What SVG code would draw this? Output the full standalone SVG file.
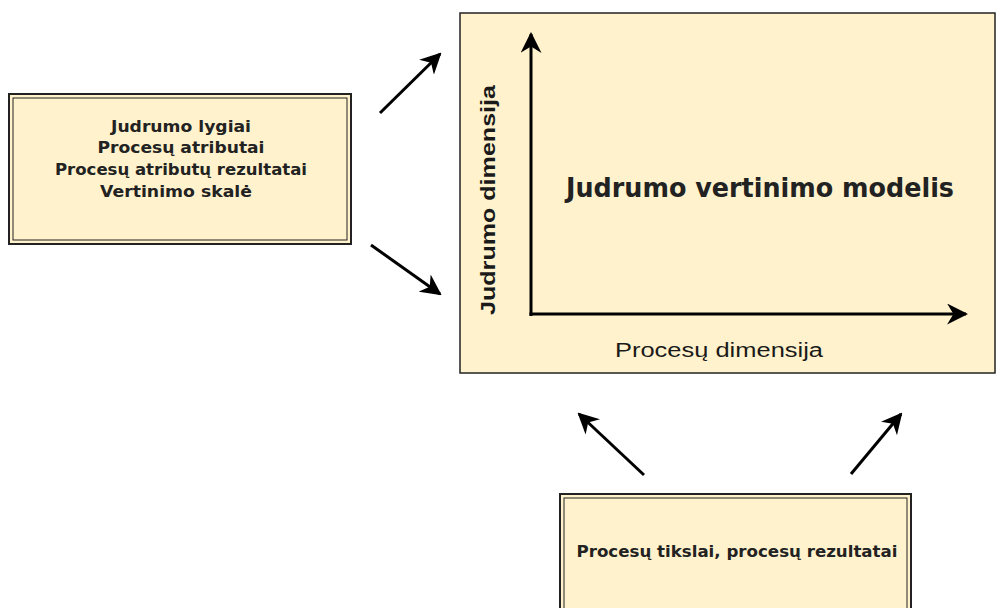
<svg xmlns="http://www.w3.org/2000/svg" width="996" height="608" viewBox="0 0 996 608">
<defs>
<marker id="ahb" viewBox="0 0 10 10" refX="9" refY="5" markerWidth="7" markerHeight="7" orient="auto"><path d="M0,0 L10,5 L0,10 L3,5 Z" fill="#000"/></marker>
</defs>
<style>
.fill{fill:#fff2cc}
.dbl{fill:none;stroke:#222}
.t{font-family:"DejaVu Sans",Verdana,sans-serif;font-weight:bold;fill:#222;text-anchor:middle}
.a{font-family:"Liberation Sans",Arial,sans-serif;fill:#1a1a1a;text-anchor:middle}
.c{stroke:#000;stroke-width:3;fill:none}
</style>
<rect width="996" height="608" fill="#fff"/>
<g id="model">
<rect x="460" y="13" width="535" height="360" class="fill" stroke="#222" stroke-width="1.5"/>
<path d="M531,316 L531,34" stroke="#000" stroke-width="3" fill="none" marker-end="url(#ahb)"/>
<path d="M529.5,314 L966,314" stroke="#000" stroke-width="3" fill="none" marker-end="url(#ahb)"/>
<text class="t" x="760" y="197" font-size="27" textLength="388" lengthAdjust="spacingAndGlyphs">Judrumo vertinimo modelis</text>
<text class="a" x="719" y="357" font-size="20" textLength="208" lengthAdjust="spacingAndGlyphs">Procesų dimensija</text>
<text class="a" x="0" y="0" font-size="21" font-weight="bold" textLength="230" lengthAdjust="spacingAndGlyphs" transform="translate(495,200) rotate(-90)">Judrumo dimensija</text>
</g>
<g id="inputs">
<rect x="9" y="94" width="342" height="150" class="fill" stroke="#222" stroke-width="2"/>
<rect x="13" y="98" width="334" height="142" class="dbl" stroke-width="1"/>
<text class="t" font-size="16" x="181" y="132" textLength="140" lengthAdjust="spacingAndGlyphs">Judrumo lygiai</text>
<text class="t" font-size="16" x="181" y="153" textLength="167" lengthAdjust="spacingAndGlyphs">Procesų atributai</text>
<text class="t" font-size="16" x="181" y="175" textLength="252" lengthAdjust="spacingAndGlyphs">Procesų atributų rezultatai</text>
<text class="t" font-size="16" x="176" y="197" textLength="152" lengthAdjust="spacingAndGlyphs">Vertinimo skalė</text>
</g>
<g id="goals">
<rect x="560" y="494" width="351" height="130" class="fill" stroke="#222" stroke-width="2"/>
<rect x="564" y="498" width="343" height="130" class="dbl" stroke-width="1"/>
<text class="t" font-size="16" x="737" y="557" textLength="321" lengthAdjust="spacingAndGlyphs">Procesų tikslai, procesų rezultatai</text>
</g>
<g id="connectors">
<line class="c" x1="380" y1="113" x2="440" y2="54" marker-end="url(#ahb)"/>
<line class="c" x1="371" y1="245" x2="440" y2="294" marker-end="url(#ahb)"/>
<line class="c" x1="644" y1="475" x2="579" y2="414" marker-end="url(#ahb)"/>
<line class="c" x1="851" y1="474" x2="901" y2="414" marker-end="url(#ahb)"/>
</g>
</svg>
